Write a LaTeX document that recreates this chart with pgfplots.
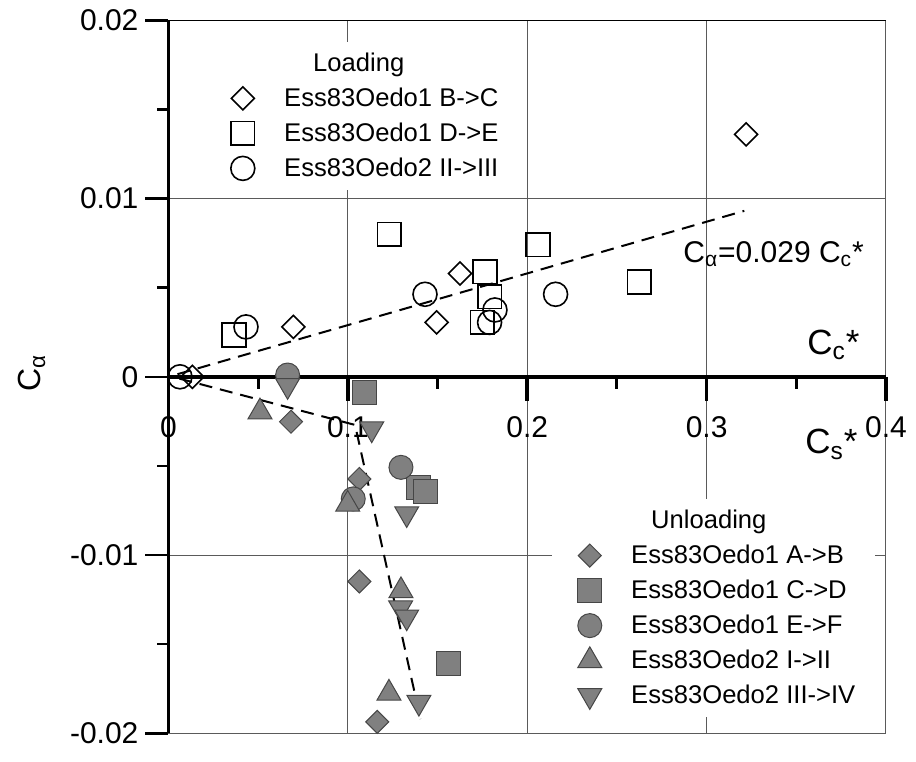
\documentclass[border=0pt]{standalone}
\usepackage{fontspec}
\setmainfont{Liberation Sans}
\usepackage{pgfplots}
\pgfplotsset{compat=1.18}
\definecolor{mgray}{RGB}{128,128,128}
\definecolor{edgegray}{RGB}{70,70,70}
\definecolor{gridgray}{RGB}{90,90,90}
\newcommand{\lf}{\fontsize{12.8}{15}\selectfont}

\tikzset{
  om/.style={draw=black, line width=0.8pt, fill=none},
  fm/.style={draw=edgegray, line width=0.5pt, fill=mgray},
}
\pgfplotsset{
  common/.style={
    scale only axis, width=358.75pt, height=356.5pt,
    xmin=0, xmax=0.4, ymin=-0.02, ymax=0.02, clip=false,
    legend cell align=left,
    legend image code/.code={\draw[##1] plot coordinates {(0pt,0pt)}; \path (-8.5pt,0pt) (8.5pt,0pt);},
  },
  majtick/.style={black, line width=1.8pt, forget plot, mark=none},
  mintick/.style={black, line width=1.5pt, forget plot, mark=none},
}

\begin{document}
\begin{tikzpicture}
\useasboundingbox (-84.25pt,-13.85pt) rectangle (373.75pt,366.65pt);
\begin{axis}[common,
  axis x line*=middle, axis y line*=left,
  xtick={0,0.1,0.2,0.3,0.4},
  ytick={-0.02,-0.01,0,0.01,0.02}, minor ytick={-0.015,-0.005,0.005,0.015},
  tick align=outside,
  major tick length=11.5pt, minor tick length=5.5pt,
  xtick style={draw=none}, ytick style={black, line width=1.2pt},
  x axis line style={black, line width=2pt}, y axis line style={black, line width=1.5pt},
  grid=major, major grid style={gridgray, line width=0.5pt},
  scaled x ticks=false, scaled y ticks=false,
  hide obscured x ticks=false, hide obscured y ticks=false,
  /pgf/number format/assume math mode=true,
  xticklabel style={/pgf/number format/fixed, /pgf/number format/precision=1, yshift=-5pt},
  yticklabel style={/pgf/number format/fixed, /pgf/number format/precision=2},
  tick label style={font=\fontsize{15}{18}\selectfont},
  legend style={at={(0.0704,0.9703)}, anchor=north west, draw=none, fill=white,
    inner xsep=3pt, inner ysep=2pt, row sep=0pt, column sep=12pt,
    nodes={inner sep=0pt, minimum height=17.5pt, text depth=0.15em, font=\lf},
    font=\lf},
]
\addlegendimage{empty legend}
\addlegendentry{\lf\hspace*{14.5pt}Loading}
\addplot[only marks, mark=square, mark size=4.07pt, mark options={om, rotate=45}] coordinates {
  (0.0133,0) (0.0696,0.0028) (0.1495,0.00305) (0.1625,0.0058) (0.322,0.0136)};
\addlegendentry{\lf Ess83Oedo1 B->C}
\addplot[only marks, mark=square, mark size=5.9pt, mark options={om}] coordinates {
  (0.0365,0.00234) (0.123,0.0080) (0.1765,0.0059) (0.179,0.0045) (0.175,0.00306) (0.206,0.0074) (0.2625,0.00532)};
\addlegendentry{\lf Ess83Oedo1 D->E}
\addplot[only marks, mark=o, mark size=6pt, mark options={om}] coordinates {
  (0.0064,0) (0.0432,0.0028) (0.143,0.00463) (0.182,0.00375) (0.179,0.00305) (0.2158,0.00463)};
\addlegendentry{\lf Ess83Oedo2 II->III}
\end{axis}

\begin{axis}[common, hide axis,
  legend style={at={(0.5345,0.02216)}, anchor=south west, draw=none, fill=white,
    inner xsep=10pt, inner ysep=2pt, row sep=0pt, column sep=12pt,
    nodes={inner sep=0pt, minimum height=17.5pt, text depth=0.15em, font=\lf},
    font=\lf},
]
% tick marks hanging below the C* axis line (12pt = 0.001346, 6.25pt = 0.000701 in y units)
\addplot[majtick] coordinates {(0,0) (0,-0.001346)};
\addplot[majtick] coordinates {(0.1,0) (0.1,-0.001346)};
\addplot[majtick] coordinates {(0.2,0) (0.2,-0.001346)};
\addplot[majtick] coordinates {(0.3,0) (0.3,-0.001346)};
\addplot[majtick] coordinates {(0.4,0) (0.4,-0.001346)};
\addplot[mintick] coordinates {(0.05,0) (0.05,-0.000701)};
\addplot[mintick] coordinates {(0.15,0) (0.15,-0.000701)};
\addplot[mintick] coordinates {(0.25,0) (0.25,-0.000701)};
\addplot[mintick] coordinates {(0.35,0) (0.35,-0.000701)};
\addplot[black, line width=0.6pt, forget plot, mark=none] coordinates {(0,0.02) (0.4,0.02)};
\addlegendimage{empty legend}
\addlegendentry{\lf\hspace*{10pt}Unloading}
\addplot[only marks, mark=square*, mark size=4.07pt, mark options={fm, rotate=45}] coordinates {
  (0.0683,-0.00252) (0.1064,-0.00573) (0.1064,-0.01148) (0.1164,-0.01936)};
\addlegendentry{\lf Ess83Oedo1 A->B}
\addplot[only marks, mark=square*, mark size=6pt, mark options={fm}] coordinates {
  (0.1095,-0.00087) (0.1396,-0.0062) (0.143,-0.00644) (0.156,-0.0161)};
\addlegendentry{\lf Ess83Oedo1 C->D}
\addplot[only marks, mark=*, mark size=6pt, mark options={fm}] coordinates {
  (0.0664,0.0001) (0.1296,-0.00508) (0.103,-0.00685)};
\addlegendentry{\lf Ess83Oedo1 E->F}
\addplot[only marks, mark=triangle*, mark size=6.9pt, mark options={fm}] coordinates {
  (0.051,-0.00197) (0.0999,-0.00715) (0.1296,-0.0120) (0.1229,-0.01775)};
\addlegendentry{\lf Ess83Oedo2 I->II}
\addplot[only marks, mark=triangle*, mark size=6.9pt, mark options={fm, rotate=180}] coordinates {
  (0.0664,-0.00049) (0.1133,-0.00292) (0.1328,-0.00768) (0.1294,-0.01296) (0.1328,-0.01347) (0.1396,-0.01826)};
\addlegendentry{\lf Ess83Oedo2 III->IV}
\addplot[black, line width=1pt, dash pattern=on 6.5pt off 4pt, forget plot, mark=none] coordinates {
  (0.005,0.000145) (0.321,0.00931)};
\addplot[black, line width=1pt, dash pattern=on 6.5pt off 4pt, forget plot, mark=none] coordinates {
  (0.006,-0.0001) (0.104,-0.0027) (0.1405,-0.0192)};
\node[anchor=base west, font=\fontsize{15}{18}\selectfont, inner sep=0pt] at (axis cs:0.2868,0.00641) {C\textsubscript{α}=0.029 C\textsubscript{c}*};
\node[anchor=base west, font=\fontsize{17.5}{20}\selectfont, inner sep=0pt] at (axis cs:0.3559,0.00127) {C\textsubscript{c}*};
\node[anchor=base west, font=\fontsize{17.5}{20}\selectfont, inner sep=0pt] at (axis cs:0.3548,-0.00433) {C\textsubscript{s}*};
\node[rotate=90, anchor=base west, font=\fontsize{16}{19}\selectfont, inner sep=0pt] at (axis cs:-0.0716,-0.000857) {C\textsubscript{α}};
\end{axis}
\end{tikzpicture}
\end{document}
